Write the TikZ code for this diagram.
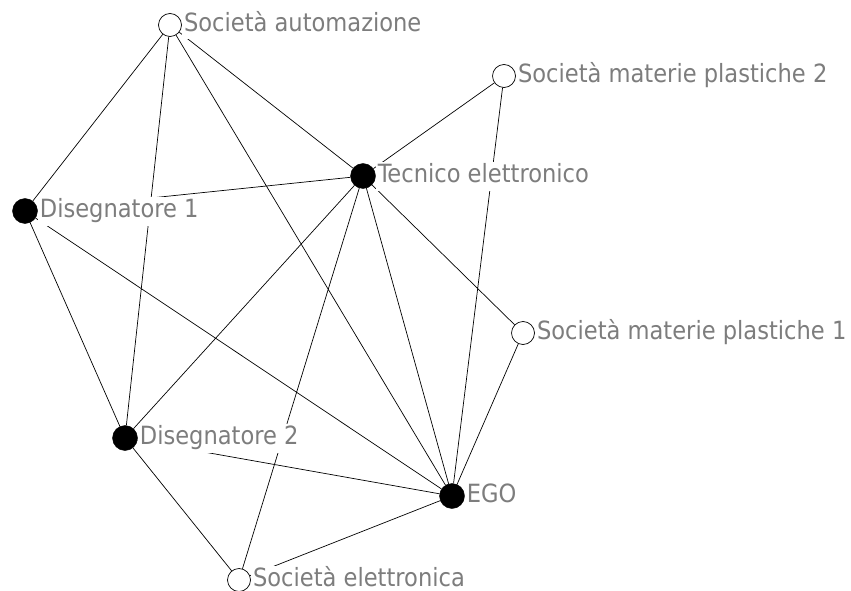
\documentclass[tikz,border=0pt]{standalone}
\usepackage{fontspec}
\setmainfont{DejaVu Sans Condensed}
\definecolor{labelgray}{RGB}{125,125,125}
\begin{document}
\begin{tikzpicture}[x=1pt,y=-1pt,
  actor/.style={circle,draw=black,fill=black,minimum size=25pt,inner sep=0pt},
  firm/.style={circle,draw=black,fill=white,minimum size=23pt,inner sep=0pt,line width=0.7pt},
  tie/.style={draw=black,line width=0.7pt},
  tag/.style={anchor=west,fill=white,text=labelgray,inner sep=2pt,
    text height=19pt,text depth=6pt,font=\fontsize{25.1}{29}\selectfont}]
\useasboundingbox (0,0) rectangle (851,591);

% actors and organisations
\node[firm]  (SA)   at (170,25)  {};
\node[firm]  (SMP2) at (504,76)  {};
\node[actor] (TE)   at (363,176) {};
\node[actor] (D1)   at (25,211)  {};
\node[firm]  (SMP1) at (523,333) {};
\node[actor] (D2)   at (125,438) {};
\node[actor] (EGO)  at (452,496) {};
\node[firm]  (SE)   at (239,580) {};

% ties of the network
\path[tie] (SA) -- (D1)  (SA) -- (D2)  (SA) -- (TE)  (SA) -- (EGO)
  (SMP2) -- (TE)  (SMP2) -- (EGO)
  (TE) -- (D1)  (TE) -- (D2)  (TE) -- (EGO)  (TE) -- (SMP1)  (TE) -- (SE)
  (D1) -- (D2)  (D1) -- (EGO)
  (SMP1) -- (EGO)
  (D2) -- (EGO)  (D2) -- (SE)
  (SE) -- (EGO);

% names, on opaque boxes over the ties
\node[tag] (lSA)   at (SA.east)   {Società automazione};
\node[tag] (lSMP2) at (SMP2.east) {Società materie plastiche 2};
\node[tag] (lTE)   at (TE.east)   {Tecnico elettronico};
\node[tag] (lD1)   at (D1.east)   {Disegnatore 1};
\node[tag] (lSMP1) at (SMP1.east) {Società materie plastiche 1};
\node[tag] (lD2)   at (D2.east)   {Disegnatore 2};
\node[tag] (lEGO)  at (EGO.east)  {EGO};
\node[tag] (lSE)   at (SE.east)   {Società elettronica};
\end{tikzpicture}
\end{document}
